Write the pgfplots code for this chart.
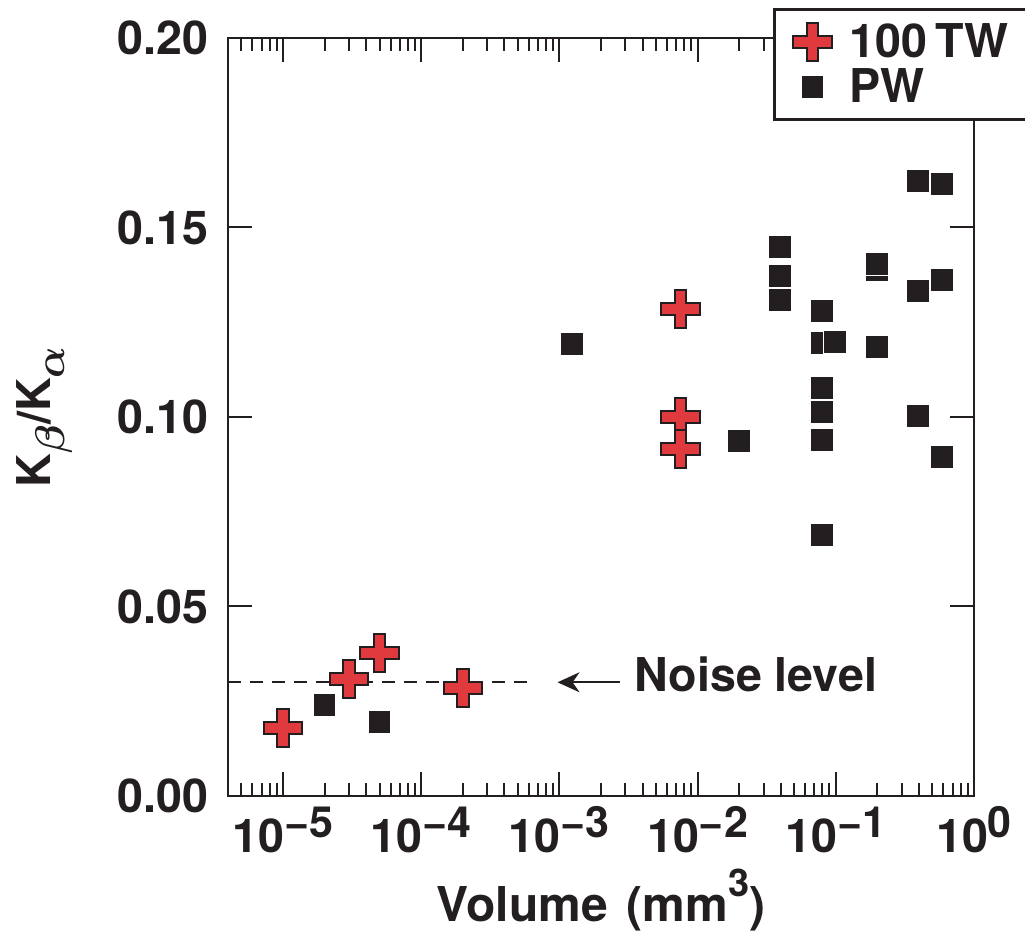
\documentclass[border=0pt]{standalone}
\usepackage{fontspec}
\setmainfont{TeX Gyre Heros}
\usepackage{pgfplots}
\pgfplotsset{compat=1.18}
\usetikzlibrary{arrows.meta}
\definecolor{kblack}{HTML}{231F20}
\definecolor{kred}{HTML}{E0393E}
\newcommand\tl{\fontsize{23.3}{26}\selectfont\bfseries}
\newcommand\sexp[1]{\raisebox{7.5pt}{\fontsize{21.5}{21.5}\selectfont\bfseries #1}}
\newcommand\lexp[1]{\raisebox{12.5pt}{\fontsize{19}{19}\selectfont\bfseries #1}}
\pgfdeclareplotmark{fatplus}{%
  \pgfpathmoveto{\pgfqpoint{-0.3\pgfplotmarksize}{\pgfplotmarksize}}%
  \pgfpathlineto{\pgfqpoint{0.3\pgfplotmarksize}{\pgfplotmarksize}}%
  \pgfpathlineto{\pgfqpoint{0.3\pgfplotmarksize}{0.3\pgfplotmarksize}}%
  \pgfpathlineto{\pgfqpoint{\pgfplotmarksize}{0.3\pgfplotmarksize}}%
  \pgfpathlineto{\pgfqpoint{\pgfplotmarksize}{-0.3\pgfplotmarksize}}%
  \pgfpathlineto{\pgfqpoint{0.3\pgfplotmarksize}{-0.3\pgfplotmarksize}}%
  \pgfpathlineto{\pgfqpoint{0.3\pgfplotmarksize}{-\pgfplotmarksize}}%
  \pgfpathlineto{\pgfqpoint{-0.3\pgfplotmarksize}{-\pgfplotmarksize}}%
  \pgfpathlineto{\pgfqpoint{-0.3\pgfplotmarksize}{-0.3\pgfplotmarksize}}%
  \pgfpathlineto{\pgfqpoint{-\pgfplotmarksize}{-0.3\pgfplotmarksize}}%
  \pgfpathlineto{\pgfqpoint{-\pgfplotmarksize}{0.3\pgfplotmarksize}}%
  \pgfpathlineto{\pgfqpoint{-0.3\pgfplotmarksize}{0.3\pgfplotmarksize}}%
  \pgfpathclose
  \pgfusepathqfillstroke
}
\begin{document}
\begin{tikzpicture}
\useasboundingbox (-114pt,-68pt) rectangle (398.5pt,398pt);
\begin{axis}[
  at={(0,0)}, anchor=south west,
  scale only axis, width=373pt, height=379pt,
  xmode=log, xmin=4e-6, xmax=1, ymin=0, ymax=0.2,
  axis line style={kblack, line width=1.3pt},
  tick style={kblack, line width=1pt},
  major tick length=12pt, minor tick length=6.5pt,
  xtick={1e-5,1e-4,1e-3,1e-2,1e-1,1},
  xticklabels={10\sexp{−5},10\sexp{−4},10\sexp{−3},10\sexp{−2},10\sexp{−1},10\sexp{0}},
  minor xtick={5e-6,6e-6,7e-6,8e-6,9e-6,
    2e-5,3e-5,4e-5,5e-5,6e-5,7e-5,8e-5,9e-5,
    2e-4,3e-4,4e-4,5e-4,6e-4,7e-4,8e-4,9e-4,
    2e-3,3e-3,4e-3,5e-3,6e-3,7e-3,8e-3,9e-3,
    2e-2,3e-2,4e-2,5e-2,6e-2,7e-2,8e-2,9e-2,
    2e-1,3e-1,4e-1,5e-1,6e-1,7e-1,8e-1,9e-1},
  ytick={0,0.05,0.1,0.15,0.2},
  yticklabels={0.00,0.05,0.10,0.15,0.20},
  ticklabel style={font=\tl, text=kblack},
  xticklabel style={anchor=base, yshift=-28.5pt},
  yticklabel style={anchor=east, xshift=-6.5pt},
  xlabel={Volume\hspace{0.4em}(mm\lexp{3})},
  xlabel style={at={(axis description cs:0.5,-0.1662)}, anchor=base, font=\fontsize{24}{28}\selectfont\bfseries, text=kblack},
  ylabel={K\raisebox{-0.3em}{\fontsize{21}{21}\selectfont\boldmath$\beta$}/K\raisebox{-0.3em}{\fontsize{21}{21}\selectfont\boldmath$\alpha$}},
  ylabel style={at={(axis description cs:-0.2453,0.5)}, anchor=center, font=\tl, text=kblack},
  legend style={at={(axis description cs:0.7306,1.0396)}, anchor=north west, draw=kblack, line width=1.3pt, fill=white, font=\tl, text=kblack, inner xsep=9.5pt, inner ysep=5pt, column sep=7pt},
  legend cell align=left,
  reverse legend,
  clip=false,
]
\addplot[forget plot, kblack, line width=1pt, dash pattern=on 6.5pt off 4.5pt] coordinates {(4e-6,0.03) (6.3e-4,0.03)};
\addplot[only marks, mark=square*, mark size=5.75pt, mark options={fill=kblack, draw=white, line width=0.6pt}] coordinates {
(2e-5,0.024) (5e-5,0.0195) (1.24e-3,0.1193) (0.02,0.0937)
(0.0396,0.1449) (0.0396,0.1372) (0.0396,0.1309)
(0.0798,0.128) (0.0798,0.1195) (0.099,0.1198) (0.0798,0.1077) (0.0798,0.1013) (0.0798,0.0939) (0.0798,0.0689)
(0.199,0.1388) (0.199,0.1404) (0.199,0.1185)
(0.394,0.1623) (0.59,0.1615) (0.394,0.1332) (0.59,0.1361) (0.394,0.1003) (0.59,0.0894)
};
\addlegendentry{\makebox[100pt][l]{PW}}
\addplot[only marks, mark=fatplus, mark size=9.6pt, mark options={fill=kred, draw=kblack, line width=1pt}] coordinates {
(1e-5,0.018) (3e-5,0.0309) (5e-5,0.0377) (2e-4,0.0285)
(7.5e-3,0.1285) (7.5e-3,0.100) (7.5e-3,0.0916)
};
\addlegendentry{\makebox[100pt][l]{100\,TW}}
\draw[kblack, line width=1pt, -{Stealth[length=11pt,width=10pt,inset=3.5pt]}] (axis cs:2.75e-3,0.03) -- (axis cs:9.7e-4,0.03);
\node[anchor=base west, inner sep=0pt, font=\tl, text=kblack] at (axis cs:3.48e-3,0.02744) {Noise level};
\end{axis}
\end{tikzpicture}
\end{document}
